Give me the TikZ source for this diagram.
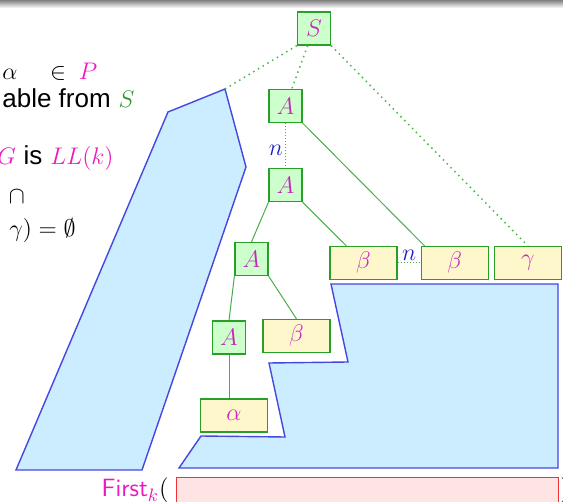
\documentclass[tikz,border=0pt]{standalone}
\usepackage{fontspec}
\newfontfamily\helv{Liberation Sans}
\usetikzlibrary{positioning,calc}

\definecolor{ntfill}{RGB}{204,255,204}
\definecolor{ntborder}{RGB}{40,160,40}
\definecolor{tmfill}{RGB}{255,247,204}
\definecolor{edgegreen}{RGB}{70,175,70}
\definecolor{dotgreen}{RGB}{70,185,70}
\definecolor{restblue}{RGB}{70,70,225}
\definecolor{restfill}{RGB}{204,236,255}
\definecolor{sym}{RGB}{200,40,190}
\definecolor{mag}{RGB}{235,25,190}
\definecolor{sgreen}{RGB}{40,150,40}
\definecolor{nblue}{RGB}{30,30,200}
\definecolor{redline}{RGB}{240,50,50}
\definecolor{redfill}{RGB}{255,228,228}

\begin{document}
\begin{tikzpicture}[x=0.5pt, y=-0.5pt,
  every node/.style={font=\fontsize{12}{14}\selectfont},
  nt/.style={draw=ntborder, fill=ntfill, line width=0.6pt, minimum width=16.5pt, minimum height=16.5pt, inner sep=0pt, text=sym},
  tm/.style={draw=ntborder, fill=tmfill, line width=0.6pt, minimum width=33.5pt, minimum height=16.5pt, inner sep=0pt, text=sym},
  link/.style={draw=edgegreen, line width=0.5pt},
  deriv/.style={draw=dotgreen, dotted, line width=0.75pt},
  fine/.style={draw=edgegreen, densely dotted, line width=0.5pt},
  rest/.style={draw=restblue, fill=restfill, line width=0.7pt},
  cnt/.style={text=nblue, inner sep=1pt},
  txt/.style={inner sep=0pt}
]
\useasboundingbox (0,0) rectangle (563,502);
\shade[top color=black!50, bottom color=white] (0,0) rectangle (563,8);

% Left column: conditions (cut off)
\node[txt, anchor=base west] (prod) at (2,80) {$\alpha\hspace{13pt}\in\hspace{3pt}\textcolor{mag}{P}$};
\node[txt, anchor=base west] (reach) at (2,108) {{\helv\fontsize{13}{15}\selectfont able from} \textcolor{sgreen}{$S$}};
\node[txt, anchor=base east] (isll) at (114,165) {\textcolor{mag}{$G$} {\helv\fontsize{13}{15}\selectfont is} \textcolor{mag}{$LL(k)$}};
\node[txt] (meet) at (17,197) {$\cap$};
\node[txt, anchor=base east] (empty) at (76,237) {$\gamma) = \emptyset$};

% Remaining parts of the derivation
\coordinate (ltip) at (225,89);
\draw[rest] (168,112) -- (ltip) -- (246,167) -- (142,470) -- (16,470) -- cycle;
\draw[rest] (331,284) -- (558,284) -- (558,468) -- (179,468) -- (201,436)
  -- (285,437) -- (269,363) -- (348,362) -- cycle;

% Derivation tree
\node[nt] (s) at (314,28.5) {$S$};
\node[nt] (a1) at (285.5,106) {$A$};
\node[nt, below=22.5pt of a1] (a2) {$A$};
\node[nt] (a3) at (251.5,259) {$A$};
\node[nt] (a4) at (229,337.5) {$A$};
\node[tm] (b1) at (363.5,263) {$\beta$};
\node[tm, right=11.5pt of b1] (b2) {$\beta$};
\node[tm, right=2.5pt of b2] (g) {$\gamma$};
\node[tm] (b3) at (296.5,336) {$\beta$};
\node[tm] (al) at (234,415.5) {$\alpha$};

% Derivation steps
\draw[deriv] (s.south west) -- (ltip);
\draw[deriv] (s) -- (a1);
\draw[deriv] (s.south east) -- (g.north);
\draw[fine] (a1) -- node[cnt, left, pos=0.6]{$n$} (a2);
\draw[fine] (b1) -- node[cnt, above]{$n$} (b2);

% Tree edges
\draw[link] (a1.south east) -- ($(b2.north west)+(2pt,0)$);
\draw[link] (a2.south west) -- (a3.north);
\draw[link] (a2) -- (b1);
\draw[link] (a3.south west) -- (a4.north);
\draw[link] (a3.south east) -- (b3.north);
\draw[link] (a4.south) -- (a4.south |- al.north);

% Lookahead
\node[draw=redline, fill=redfill, line width=0.6pt, anchor=north west, minimum width=191pt, minimum height=14pt] (look) at (176,477) {};
\node[txt, anchor=base east] (first) at (169,497) {\fontsize{12.5}{14}\selectfont\textcolor{mag}{\sffamily First$_k$}(};
\node[txt, anchor=base west] (close) at (560,497) {\fontsize{12.5}{14}\selectfont )};
\end{tikzpicture}
\end{document}
